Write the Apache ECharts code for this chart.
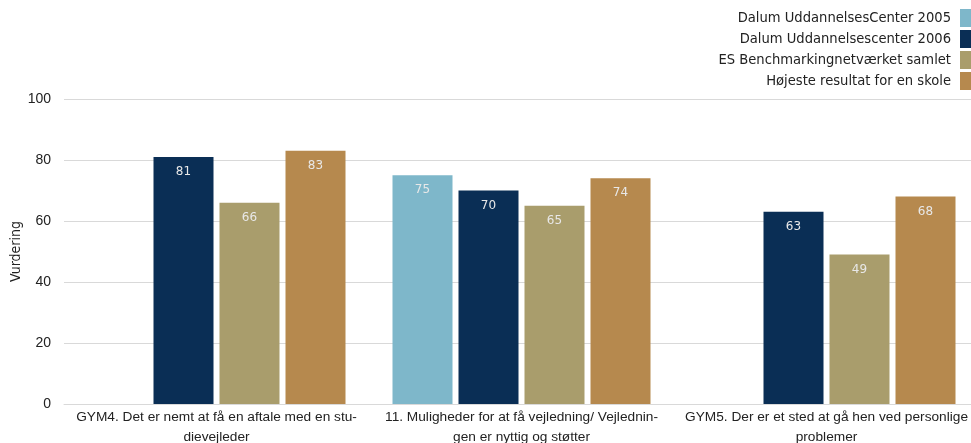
<!DOCTYPE html>
<html>
<head>
<meta charset="utf-8">
<script src="https://cdn.jsdelivr.net/npm/echarts@6/dist/echarts.min.js"></script>
<style>
  html, body { margin: 0; padding: 0; background: #fff; }
  #chart { width: 971px; height: 443px; }
</style>
</head>
<body>
<div id="chart"></div>
<script>
// Question categories (hyphenated line breaks kept as printed)
const categories = [
  'GYM4. Det er nemt at få en aftale med en stu-\ndievejleder',
  '11. Muligheder for at få vejledning/ Vejlednin-\ngen er nyttig og støtter',
  'GYM5. Der er et sted at gå hen ved personlige\nproblemer'
];

const seriesNames = [
  'Dalum UddannelsesCenter 2005',
  'Dalum Uddannelsescenter 2006',
  'ES Benchmarkingnetværket samlet',
  'Højeste resultat for en skole'
];

// Scores per series, one value per category (null = no result)
const dalum2005 = [null, 75, null];
const dalum2006 = [81, 70, 63];
const benchmark = [66, 65, 49];
const bestSchool = [83, 74, 68];

const yTicks = { min: 0, max: 100, interval: 20 };

const colors = ['#7EB7CA', '#0A2E55', '#A99D6C', '#B6894E'];
const values = [dalum2005, dalum2006, benchmark, bestSchool];

const chart = echarts.init(document.getElementById('chart'), null, { renderer: 'canvas' });

const series = values.map((data, i) => ({
  name: seriesNames[i],
  type: 'bar',
  data: data,
  barWidth: 60,
  barGap: '10%',
  itemStyle: { color: colors[i] },
  label: {
    show: true,
    position: 'insideTop',
    distance: 9,
    color: '#E8E8E8',
    fontFamily: 'DejaVu Sans',
    fontSize: 12
  }
}));

chart.setOption({
  animation: false,
  backgroundColor: '#ffffff',
  color: colors,
  legend: {
    orient: 'vertical',
    right: 0,
    top: 9,
    padding: 0,
    align: 'right',
    icon: 'rect',
    itemWidth: 11,
    itemHeight: 18,
    itemGap: 3,
    selectedMode: false,
    textStyle: {
      fontFamily: 'DejaVu Sans Condensed, DejaVu Sans',
      fontSize: 14.6,
      color: '#222222',
      padding: [0, 4, 0, 0]
    },
    data: seriesNames
  },
  grid: {
    left: 64,
    top: 99,
    width: 915,
    height: 305,
    outerBoundsMode: 'none',
    containLabel: false
  },
  xAxis: {
    type: 'category',
    data: categories,
    axisTick: { show: false },
    axisLine: { lineStyle: { color: '#D9D9D9', width: 1 } },
    axisLabel: {
      color: '#222222',
      fontFamily: 'Liberation Sans Narrow, Liberation Sans',
      fontSize: 13.7,
      lineHeight: 20,
      margin: 3,
      interval: 0
    }
  },
  yAxis: {
    type: 'value',
    min: yTicks.min,
    max: yTicks.max,
    interval: yTicks.interval,
    name: 'Vurdering',
    nameLocation: 'middle',
    nameGap: 41,
    nameRotate: 90,
    nameMoveOverlap: false,
    nameTextStyle: {
      fontFamily: 'DejaVu Sans Condensed, DejaVu Sans',
      fontSize: 14,
      color: '#222222'
    },
    axisLine: { show: false },
    axisTick: { show: false },
    splitLine: { lineStyle: { color: '#D9D9D9', width: 1 } },
    axisLabel: {
      color: '#222222',
      fontFamily: 'Liberation Sans',
      fontSize: 14,
      margin: 13
    }
  },
  series: series
});
</script>
</body>
</html>
